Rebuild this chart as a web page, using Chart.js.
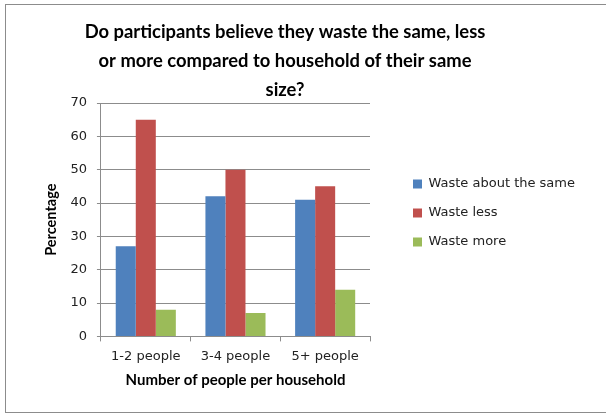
<!DOCTYPE html>
<html lang="en">
<head>
    <meta charset="UTF-8">
    <title>Waste compared to household size</title>
    <style>
        body {
            margin: 0;
            background: #fff;
            overflow: hidden;
        }

        .frame {
            position: absolute;
            left: 5px;
            top: 4px;
            width: 620px;
            height: 407px;
            border: 1px solid #8c8c8c;
        }

        .chart-box {
            position: absolute;
            left: 0;
            top: 0;
            width: 606px;
            height: 416px;
        }
    </style>
    <script src="https://cdn.jsdelivr.net/npm/chart.js"></script>
</head>
<body>
    <div class="frame"></div>
    <div class="chart-box">
        <canvas id="wasteChart" width="606" height="416"></canvas>
    </div>

    <script>
        const titleLines = [
            'Do participants believe they waste the same, less',
            'or more compared to household of their same',
            'size?'
        ];
        const categories = ['1-2 people', '3-4 people', '5+ people'];
        const seriesNames = ['Waste about the same', 'Waste less', 'Waste more'];
        const sameValues = [27, 42, 41];
        const lessValues = [65, 50, 45];
        const moreValues = [8, 7, 14];
        const yTicks = [0, 10, 20, 30, 40, 50, 60, 70];

        const colors = ['#4f81bd', '#c0504d', '#9bbb59'];
        const textFont = '"DejaVu Sans", sans-serif';
        const boldFont = 'Lato, "Open Sans", sans-serif';

        // titel selbst zeichnen, damit die mitte stimmt
        const titlePlugin = {
            id: 'manualTitle',
            afterDraw(chart) {
                const ctx = chart.ctx;
                ctx.save();
                ctx.fillStyle = '#000';
                ctx.font = 'bold 18.4px ' + boldFont;
                ctx.textAlign = 'center';
                ctx.textBaseline = 'middle';
                titleLines.forEach((line, i) => {
                    ctx.fillText(line, 285, 32 + i * 29);
                });
                ctx.restore();
            }
        };

        // legende an die stelle wie im original schieben
        const legendShift = {
            id: 'legendShift',
            afterLayout(chart) {
                const lg = chart.legend;
                if (!lg) return;
                const w = lg.right - lg.left;
                lg.left = 397;
                lg.right = lg.left + w;
                lg.top -= 35;
                lg.bottom -= 35;
            }
        };

        const datasets = [sameValues, lessValues, moreValues].map((vals, i) => ({
            label: seriesNames[i],
            data: vals,
            backgroundColor: colors[i],
            borderWidth: 0,
            barPercentage: 1.0,
            categoryPercentage: 0.67
        }));

        new Chart(document.getElementById('wasteChart'), {
            type: 'bar',
            data: {
                labels: categories,
                datasets: datasets
            },
            plugins: [titlePlugin, legendShift],
            options: {
                responsive: false,
                animation: false,
                layout: {
                    padding: { top: 103, left: 43, right: 48, bottom: 23 }
                },
                plugins: {
                    title: { display: false },
                    tooltip: { enabled: false },
                    legend: {
                        position: 'right',
                        maxWidth: 260,
                        labels: {
                            boxWidth: 9,
                            boxHeight: 9,
                            padding: 16,
                            color: '#222',
                            font: { family: textFont, size: 13 }
                        }
                    }
                },
                scales: {
                    x: {
                        grid: {
                            drawOnChartArea: false,
                            color: '#8c8c8c',
                            tickLength: 5,
                            offset: true
                        },
                        border: { color: '#8c8c8c' },
                        ticks: {
                            color: '#222',
                            font: { family: textFont, size: 13 },
                            padding: 7
                        },
                        title: {
                            display: true,
                            text: 'Number of people per household',
                            color: '#000',
                            font: { family: boldFont, size: 15, weight: 'bold' },
                            padding: { top: 0, bottom: 4 }
                        }
                    },
                    y: {
                        min: 0,
                        max: 70,
                        afterBuildTicks(axis) {
                            axis.ticks = yTicks.map(v => ({ value: v }));
                        },
                        grid: {
                            color: '#8c8c8c',
                            tickLength: 4
                        },
                        border: { color: '#8c8c8c' },
                        ticks: {
                            color: '#222',
                            font: { family: textFont, size: 13 },
                            padding: 10
                        },
                        title: {
                            display: true,
                            text: 'Percentage',
                            color: '#000',
                            font: { family: boldFont, size: 14.5, weight: 'bold' },
                            padding: { top: 0, bottom: 0 }
                        }
                    }
                }
            }
        });
    </script>
</body>
</html>
